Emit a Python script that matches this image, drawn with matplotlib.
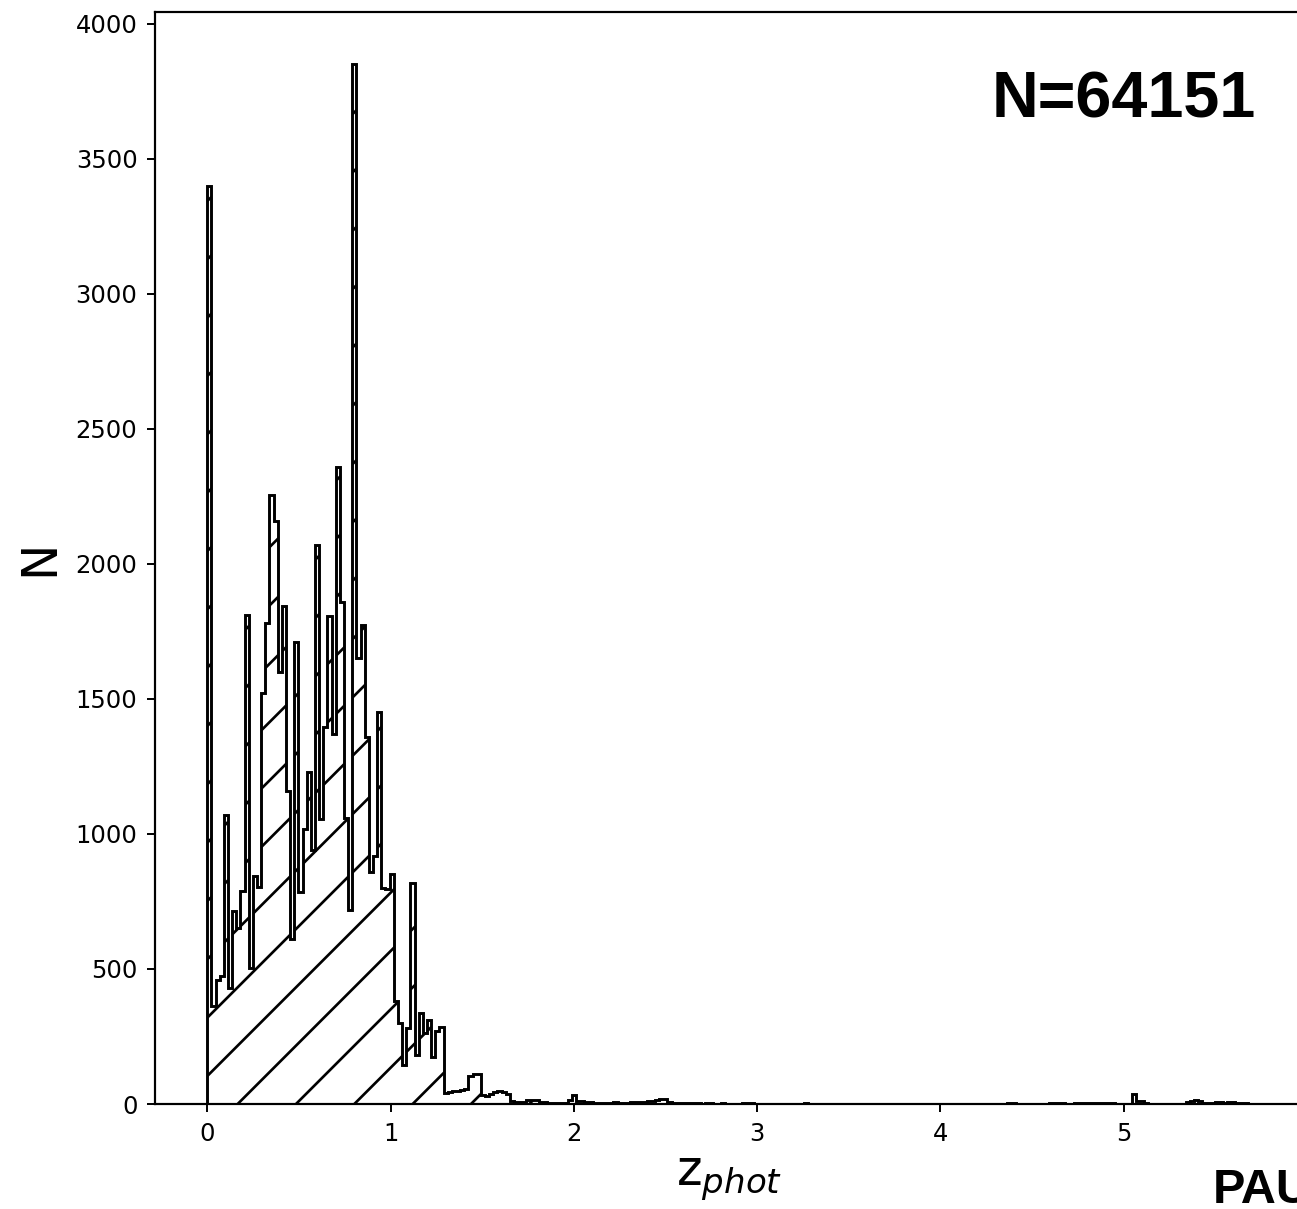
#!/usr/bin/env python3
"""
Photometric redshift histogram (step + hatch) for the PAUS catalogue.
Counts per bin were read off the published figure.
"""

import numpy as np
import matplotlib
matplotlib.use('Agg')
import matplotlib.pyplot as plt

# Binning of z_phot
Z_MIN = 0.0
Z_MAX = 5.70
N_BINS = 250

# Counts per bin
counts_low = [3400, 363, 460, 475, 1070, 430, 715, 650, 790, 1810,
              505, 844, 804, 1520, 1780, 2255, 2160, 1600, 1845, 1160,
              610, 1710, 785, 1020, 1230, 940, 2070, 1055, 1395, 1805,
              1370, 2360, 1860, 1060, 720, 3850, 1650, 1775, 1360, 860,
              920, 1450, 800, 795, 850, 380, 299, 144, 280, 820,
              181, 336, 262, 311, 175, 270, 285]
counts_mid = [41, 43, 47, 49, 51, 54, 105, 111, 110, 35,
              28, 38, 45, 50, 45, 38, 10, 7, 6, 8,
              16, 16, 14, 7, 6, 5, 5, 4, 4, 4,
              15, 35, 12, 12, 8, 6, 5, 5, 4, 4,
              5, 6, 5, 4, 5, 6, 7, 8, 9, 10,
              12, 14, 20, 18, 6, 4, 4, 3, 3, 4,
              3, 3, 2, 3, 3, 2, 2, 3, 2, 2]
counts_flat = [2, 2, 3, 4, 3, 2, 2, 2, 2, 1,
               2, 1, 1, 2, 1, 1, 2, 3, 2, 1,
               1, 1, 2, 1, 1, 1, 1, 1, 2, 1,
               1, 1, 1, 1, 1, 1, 1, 1, 1, 1,
               1, 1, 1, 1, 1, 1, 1, 1, 1, 1,
               1, 1, 1, 1, 1, 1, 1, 1, 1, 1,
               1, 1, 1, 2, 2, 2, 3, 3, 2, 2,
               2, 2, 2, 2, 2, 2, 3, 4, 3, 3,
               2, 2, 3, 3, 3, 3, 3, 3, 3, 4,
               4, 4, 2, 2, 1, 1]
counts_high = [36, 12, 12, 4, 2, 2, 1, 1, 2, 1,
               1, 2, 2, 7, 12, 16, 12, 4, 5, 4,
               6, 6, 5, 6, 6, 5, 4, 3, 2]
counts = np.array(counts_low + counts_mid + counts_flat + counts_high, dtype=float)

N_TOTAL = 64151
SURVEY = 'PAUS'


def main():
    plt.rcParams['hatch.linewidth'] = 0.55
    plt.rcParams['axes.linewidth'] = 0.45

    dpi = 350
    fig = plt.figure(figsize=(1297 / dpi, 1209 / dpi), dpi=dpi)
    ax = fig.add_axes([0.1195, 0.0868, 0.886, 0.9032])

    edges = np.linspace(Z_MIN, Z_MAX, len(counts) + 1)
    ax.hist(edges[:-1], bins=edges, weights=counts, histtype='step',
            hatch='//', edgecolor='black', linewidth=0.6)

    ax.set_xticks(range(6))
    ax.set_yticks(range(0, 4001, 500))
    ax.tick_params(labelsize=5.0, length=1.7, width=0.4, pad=1.9)

    ax.set_xlabel('z$_{phot}$', fontsize=10, labelpad=2)
    ax.set_ylabel('N', fontsize=10, labelpad=2.5)

    ax.text(0.958, 0.919, f'N={N_TOTAL}', transform=ax.transAxes,
            ha='right', va='center', fontsize=13.3, fontweight='bold',
            family='Liberation Sans')
    fig.text(0.935, 0.0157, SURVEY, ha='left', va='center', fontsize=10,
             fontweight='bold', family='Liberation Sans')

    fig.savefig('out.png', dpi=dpi)


if __name__ == "__main__":
    main()
